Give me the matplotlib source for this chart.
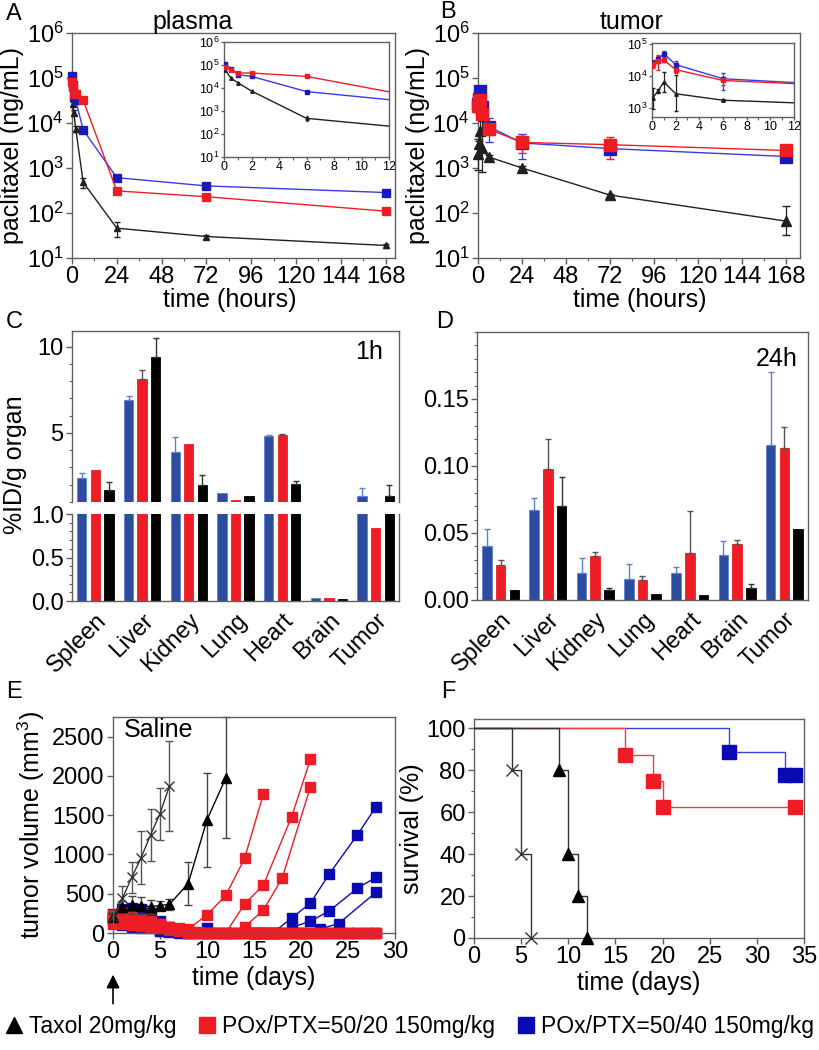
# paclitaxel PK / biodistribution / efficacy figure
import matplotlib
matplotlib.use("Agg")
import matplotlib.pyplot as plt
import numpy as np
from matplotlib.lines import Line2D
from matplotlib.ticker import MultipleLocator, NullLocator, FormatStrFormatter, FixedLocator

plt.rcParams['font.family'] = ['Liberation Sans', 'DejaVu Sans']
plt.rcParams['mathtext.default'] = 'regular'
plt.rcParams['font.size'] = 17

# ---------------- data ----------------
# A / B: paclitaxel concentration (ng/mL) vs time (h)
t_hours = [0.083, 0.5, 1, 2, 6, 24, 72, 168]
plasma_taxol = [61000, 27000, 17000, 7400, 480, 46, 30, 19]
plasma_taxol_err = [5000, 3000, 2000, 1000, 120, 16, 3, 2]
plasma_p20 = [81000, 62000, 45000, 45000, 32000, 310, 230, 110]
plasma_p20_err = [9000, 5000, 4000, 3000, 3000, 25, 40, 15]
plasma_p40 = [112000, 70000, 38000, 32000, 7000, 610, 400, 285]
plasma_p40_err = [10000, 6000, 3000, 3000, 500, 60, 60, 20]

tumor_taxol = [2100, 3400, 6500, 2800, 1750, 1000, 250, 66]
tumor_taxol_lo = [1200, 400, 3400, 2000, 150, 100, 20, 33]
tumor_taxol_hi = [2200, 600, 7000, 8200, 150, 100, 20, 75]
tumor_p20 = [24000, 31000, 32000, 16000, 7300, 3700, 3300, 2450]
tumor_p20_err = [6000, 15000, 5000, 3000, 2000, 1500, 1700, 300]
tumor_p40 = [26000, 34000, 51000, 23000, 8300, 3600, 2700, 1800]
tumor_p40_err = [7000, 8000, 12000, 8000, 4500, 2000, 300, 300]

# C / D: biodistribution (%ID/g organ)
organs = ['Spleen', 'Liver', 'Kidney', 'Lung', 'Heart', 'Brain', 'Tumor']
c_p40 = [2.39, 6.91, 3.92, 1.54, 4.81, 0.03, 1.33]
c_p40_err = [0.30, 0.23, 0.87, 0, 0.08, 0, 0.47]
c_p20 = [2.88, 8.15, 4.36, 1.12, 4.86, 0.03, 0.84]
c_p20_err = [0, 0.48, 0, 0, 0.10, 0, 0]
c_taxol = [1.72, 9.42, 2.00, 1.37, 2.05, 0.02, 1.37]
c_taxol_err = [0.46, 1.06, 0.54, 0, 0.19, 0, 0.63]

d_p40 = [0.040, 0.0675, 0.020, 0.016, 0.020, 0.0335, 0.116]
d_p40_err = [0.013, 0.0085, 0.0115, 0.011, 0.005, 0.0105, 0.054]
d_p20 = [0.026, 0.098, 0.033, 0.015, 0.035, 0.0415, 0.1135]
d_p20_err = [0.004, 0.022, 0.003, 0.003, 0.0315, 0.0035, 0.0155]
d_taxol = [0.0073, 0.0705, 0.0073, 0.0045, 0.0037, 0.009, 0.053]
d_taxol_err = [0, 0.0215, 0.0017, 0, 0, 0.003, 0]

# E: tumor volume (mm3) vs days
e_saline_days = [0, 1, 2, 3, 4, 5, 6]
e_saline = [210, 440, 710, 960, 1250, 1520, 1870]
e_saline_err = [60, 160, 200, 340, 330, 330, 570]
e_taxol_days = [0, 1, 2, 3, 4, 5, 6, 8, 10, 12]
e_taxol = [200, 330, 355, 350, 335, 350, 365, 630, 1440, 1975]
e_taxol_err = [50, 80, 110, 110, 90, 60, 70, 270, 600, 770]

days_all = [0, 1, 2, 3, 4, 5, 6, 7, 8, 9, 10, 11, 12, 13, 14,
            15, 16, 17, 18, 19, 20, 21, 22, 23, 24, 25, 26, 27, 28]

# individual mice, POx/PTX=50/20
r1_days = [0, 1, 2, 3, 4, 5, 6, 7, 8, 10, 12, 14, 16]
r1_vol = [230, 260, 210, 180, 150, 120, 80, 60, 50, 230, 480, 950, 1770]
r2_days = [0, 1, 2, 3, 4, 5, 6, 7, 8, 9, 10, 11, 12, 14, 16, 19, 21]
r2_vol = [190, 170, 160, 150, 130, 100, 70, 40, 20, 10, 0, 0, 0, 370, 610, 1480, 2210]
r3_days = [0, 1, 2, 3, 4, 5, 6, 7, 8, 9, 10, 11, 12, 13, 14, 16, 18, 21]
r3_vol = [150, 140, 130, 120, 110, 90, 60, 40, 10, 0, 0, 0, 0, 0, 80, 290, 700, 1860]
rz1_vol = [200, 180, 170, 150, 130, 110, 80, 50, 20, 0, 0, 0, 0, 0, 0,
           0, 0, 0, 0, 0, 0, 0, 0, 0, 0, 0, 0, 0, 0]
rz2_vol = [120, 110, 100, 90, 80, 60, 40, 20, 0, 0, 0, 0, 0, 0, 0,
           0, 0, 0, 0, 0, 0, 0, 0, 0, 0, 0, 0, 0, 0]

# individual mice, POx/PTX=50/40
b1_days = [0, 1, 2, 3, 4, 5, 6, 7, 8, 10, 15, 16, 17, 19, 21, 23, 26, 28]
b1_vol = [240, 300, 320, 300, 260, 150, 80, 40, 20, 60, 0, 0, 0, 190, 380, 750, 1250, 1610]
b2_days = [0, 1, 2, 3, 4, 5, 6, 7, 8, 15, 16, 17, 19, 21, 23, 26, 28]
b2_vol = [180, 120, 80, 90, 100, 30, 20, 10, 0, 0, 0, 0, 70, 150, 280, 570, 710]
b3_days = [0, 1, 2, 3, 4, 5, 6, 7, 8, 15, 16, 17, 18, 20, 22, 24, 28]
b3_vol = [200, 150, 130, 120, 110, 40, 30, 20, 0, 0, 0, 0, 0, 0, 50, 120, 520]
bz_vol = [160, 100, 90, 70, 60, 20, 10, 0, 0, 0, 0, 0, 0, 0, 0,
          0, 0, 0, 0, 0, 0, 0, 0, 0, 0, 0, 0, 0, 0]

# F: survival (%)
f_saline_days = [0, 4, 5, 6]
f_saline = [100, 80, 40, 0]
f_taxol_days = [0, 9, 10, 11, 12]
f_taxol = [100, 80, 40, 20, 0]
f_p20_days = [0, 16, 19, 20, 34]
f_p20 = [100, 87.5, 75, 62.5, 62.5]
f_p40_days = [0, 27, 33, 34]
f_p40 = [100, 88.9, 77.8, 77.8]

# ---------------- style ----------------
RED = '#ee1d25'
BLUE_LINE = '#3a3ae6'
BLUE_MK = '#1a1ab8'
BAR_BLUE = '#2c4c9e'
BAR_BLUE_ERR = '#5d7fd6'
E_BLUE = '#0a0ab4'
SPINE = '#606060'

W, H = 820, 1050
fig = plt.figure(figsize=(W / 100, H / 100), dpi=100)


def box(x0, y0, x1, y1):
    return [x0 / W, 1 - y1 / H, (x1 - x0) / W, (y1 - y0) / H]


def style(ax, size=17, length=4):
    for s in ax.spines.values():
        s.set_color(SPINE)
        s.set_linewidth(1)
    ax.tick_params(direction='out', length=length, width=1, labelsize=size,
                   color=SPINE, pad=2)
    ax.tick_params(which='minor', direction='out', length=length * 0.6, width=0.8, color=SPINE)


def pk_lines(ax, black, black_err, red, red_err, blue, blue_err, ms_sq, ms_tri, cap):
    ax.errorbar(t_hours, black, yerr=black_err, color='#202020', marker='^', ms=ms_tri,
                lw=1, elinewidth=0.9, capsize=cap, clip_on=False, zorder=3)
    ax.errorbar(t_hours, blue, yerr=blue_err, color=BLUE_LINE, mfc=BLUE_MK, mec=BLUE_MK,
                marker='s', ms=ms_sq, lw=1, elinewidth=0.9, capsize=cap, clip_on=False, zorder=3)
    ax.errorbar(t_hours, red, yerr=red_err, color=RED, marker='s', ms=ms_sq,
                lw=1, elinewidth=0.9, capsize=cap, clip_on=False, zorder=3)


def log_axis(ax, lo, hi, size, xmax, xstep, decades):
    ax.set_yscale('log')
    ax.set_ylim(lo, hi)
    ax.yaxis.set_major_locator(FixedLocator(decades))
    ax.yaxis.set_minor_locator(NullLocator())
    ax.set_xlim(0, xmax)
    ax.xaxis.set_major_locator(MultipleLocator(xstep))
    style(ax, size)


dec_full = [1e1, 1e2, 1e3, 1e4, 1e5, 1e6]

# ---- A plasma ----
axA = fig.add_axes(box(72, 33, 395, 258))
pk_lines(axA, plasma_taxol, plasma_taxol_err, plasma_p20, plasma_p20_err,
         plasma_p40, plasma_p40_err, 6, 5, 2)
log_axis(axA, 10, 1e6, 17, 173, 24, dec_full)
axA.xaxis.set_minor_locator(MultipleLocator(12))
axA.set_ylabel('paclitaxel (ng/mL)', fontsize=18, labelpad=2)

insA = fig.add_axes(box(224, 42, 389, 157))
pk_lines(insA, plasma_taxol, plasma_taxol_err, plasma_p20, plasma_p20_err,
         plasma_p40, plasma_p40_err, 2.5, 2.5, 1)
log_axis(insA, 10, 1e6, 9, 12, 2, dec_full)
insA.xaxis.set_minor_locator(MultipleLocator(1))
insA.tick_params(length=2, pad=1)
for ln in insA.lines:
    ln.set_clip_on(True)

# ---- B tumor ----
axB = fig.add_axes(box(478, 33, 800, 258))
pk_lines(axB, tumor_taxol, [tumor_taxol_lo, tumor_taxol_hi], tumor_p20, tumor_p20_err,
         tumor_p40, tumor_p40_err, 9, 7, 3)
log_axis(axB, 10, 1e6, 17, 175.5, 24, dec_full)
axB.xaxis.set_minor_locator(MultipleLocator(12))
axB.set_ylabel('paclitaxel (ng/mL)', fontsize=18, labelpad=2)

insB = fig.add_axes(box(652, 43, 794, 117))
pk_lines(insB, tumor_taxol, [tumor_taxol_lo, tumor_taxol_hi], tumor_p20, tumor_p20_err,
         tumor_p40, tumor_p40_err, 2.5, 2.5, 1.5)
log_axis(insB, 520, 1.1e5, 9, 12, 2, [1e3, 1e4, 1e5])
insB.xaxis.set_minor_locator(MultipleLocator(1))
insB.tick_params(length=2, pad=1)
for ln in insB.lines:
    ln.set_clip_on(True)

fig.text(193 / W, 1 - 22 / H, 'plasma', ha='center', va='center', fontsize=18)
fig.text(632 / W, 1 - 22 / H, 'tumor', ha='center', va='center', fontsize=18)
fig.text(230 / W, 1 - 300 / H, 'time (hours)', ha='center', va='center', fontsize=18)
fig.text(640 / W, 1 - 300 / H, 'time (hours)', ha='center', va='center', fontsize=18)

# ---- C biodistribution 1h (broken axis) ----
x = np.arange(len(organs))
offs = [-0.29, 0.0, 0.29]
bw = 0.2
off_of = {BAR_BLUE: offs[0], RED: offs[1], 'black': offs[2]}


def bar_set(ax, vals, errs, color, ecolor, with_err=True, edge=None):
    ax.bar(x + off_of[color], vals, width=bw, color=color,
           edgecolor=edge or color, linewidth=0.6)
    if with_err:
        vals = np.array(vals)
        errs = np.array(errs)
        m = (errs > 0) & (vals > ax.get_ylim()[0])
        ax.errorbar((x + off_of[color])[m], vals[m], yerr=[np.zeros(m.sum()), errs[m]],
                    fmt='none', ecolor=ecolor, capsize=2.5, elinewidth=1, capthick=1)


axCu = fig.add_axes(box(72, 331, 399, 502))
axCl = fig.add_axes(box(72, 514, 399, 601))
for ax in (axCu, axCl):
    ax.set_xlim(-0.5, 6.5)
axCu.set_ylim(1.0, 10.9)
axCl.set_ylim(0, 1.0)
bar_set(axCu, c_p40, c_p40_err, BAR_BLUE, BAR_BLUE_ERR, edge=BAR_BLUE_ERR)
bar_set(axCu, c_p20, c_p20_err, RED, '#555555')
bar_set(axCu, c_taxol, c_taxol_err, 'black', '#333333')
bar_set(axCl, c_p40, c_p40_err, BAR_BLUE, BAR_BLUE_ERR, with_err=False, edge=BAR_BLUE_ERR)
bar_set(axCl, c_p20, c_p20_err, RED, '#555555', with_err=False)
bar_set(axCl, c_taxol, c_taxol_err, 'black', '#333333', with_err=False)
style(axCu)
style(axCl)
axCu.spines['bottom'].set_visible(False)
axCl.spines['top'].set_visible(False)
axCu.set_xticks([])
axCu.set_yticks([5, 10])
axCu.yaxis.set_minor_locator(MultipleLocator(1))
axCl.set_yticks([0, 0.5, 1.0])
axCl.yaxis.set_major_formatter(FormatStrFormatter('%.1f'))
axCl.yaxis.set_minor_locator(MultipleLocator(0.1))
axCl.set_xticks(x)
axCl.set_xticklabels(organs, rotation=45, ha='right', rotation_mode='anchor')
axCl.tick_params(axis='x', length=0, pad=6)
axCu.text(0.95, 0.88, '1h', transform=axCu.transAxes, ha='right', va='center', fontsize=18)
fig.text(15 / W, 1 - 465 / H, '%ID/g organ', rotation=90, ha='center', va='center', fontsize=18)

# ---- D biodistribution 24h ----
axD = fig.add_axes(box(477, 332, 808, 600))
axD.set_xlim(-0.5, 6.5)
axD.set_ylim(0, 0.2)
bar_set(axD, d_p40, d_p40_err, BAR_BLUE, BAR_BLUE_ERR, edge=BAR_BLUE_ERR)
bar_set(axD, d_p20, d_p20_err, RED, '#555555')
bar_set(axD, d_taxol, d_taxol_err, 'black', '#333333')
style(axD)
axD.set_yticks([0, 0.05, 0.10, 0.15])
axD.yaxis.set_major_formatter(FormatStrFormatter('%.2f'))
axD.yaxis.set_minor_locator(MultipleLocator(0.01))
axD.set_xticks(x)
axD.set_xticklabels(organs, rotation=45, ha='right', rotation_mode='anchor')
axD.tick_params(axis='x', length=0, pad=6)
axD.text(0.97, 0.9, '24h', transform=axD.transAxes, ha='right', va='center', fontsize=18)

# ---- E tumor growth ----
axE = fig.add_axes(box(113, 717, 395, 933))
kw_sq = dict(marker='s', ms=6.5, lw=1, clip_on=False)
for d, v in [(days_all, bz_vol), (b3_days, b3_vol), (b2_days, b2_vol), (b1_days, b1_vol)]:
    axE.plot(d, v, color=E_BLUE, mfc=E_BLUE, mec=E_BLUE, **kw_sq)
for d, v in [(days_all, rz2_vol), (days_all, rz1_vol), (r3_days, r3_vol),
             (r2_days, r2_vol), (r1_days, r1_vol)]:
    axE.plot(d, v, color=RED, **kw_sq)
axE.errorbar(e_taxol_days, e_taxol, yerr=e_taxol_err, color='black', marker='^', ms=7,
             lw=1, elinewidth=1, ecolor='#444444', capsize=3, clip_on=False)
axE.errorbar(e_saline_days, e_saline, yerr=e_saline_err, color='#333333', marker='x', ms=7,
             mew=1, lw=1, elinewidth=1, ecolor='#555555', capsize=3, clip_on=False)
axE.set_xlim(0, 30)
axE.set_ylim(0, 2750)
axE.set_xticks([0, 5, 10, 15, 20, 25, 30])
axE.set_yticks([0, 500, 1000, 1500, 2000, 2500])
style(axE)
axE.set_ylabel('tumor volume (mm$^3$)', fontsize=18, labelpad=4)
axE.set_xlabel('time (days)', fontsize=18, labelpad=2)
axE.text(0.04, 0.94, 'Saline', transform=axE.transAxes, ha='left', va='center', fontsize=18)
axE.annotate('', xy=(0, -0.18), xycoords=('data', 'axes fraction'),
             xytext=(0, -0.34), textcoords=('data', 'axes fraction'),
             arrowprops=dict(arrowstyle='-|>', color='black', lw=1.2, mutation_scale=20),
             annotation_clip=False)

# ---- F survival ----
axF = fig.add_axes(box(474, 719, 804, 938))
axF.step(f_p40_days, f_p40, where='post', color='#3344dd', lw=1, zorder=2)
axF.plot(f_p40_days[1:], f_p40[1:], 's', color=E_BLUE, ms=10, clip_on=False, zorder=4)
axF.plot(f_p40_days[2:], f_p40[2:], '-', color=E_BLUE, lw=8, solid_capstyle='butt', zorder=4)
axF.step(f_p20_days, f_p20, where='post', color='#ef4040', lw=1, zorder=2)
axF.plot(f_p20_days[1:], f_p20[1:], 's', color=RED, ms=10, clip_on=False, zorder=4)
axF.step(f_taxol_days, f_taxol, where='post', color='#333333', lw=1, zorder=3)
axF.plot(f_taxol_days[1:], f_taxol[1:], '^', color='black', ms=9, clip_on=False, zorder=4)
axF.step(f_saline_days, f_saline, where='post', color='#333333', lw=1, zorder=3)
axF.plot(f_saline_days[1:], f_saline[1:], 'x', color='#333333', ms=9, mew=1,
         clip_on=False, zorder=4)
axF.set_xlim(0, 35)
axF.set_ylim(0, 104.5)
axF.set_xticks([0, 5, 10, 15, 20, 25, 30, 35])
axF.set_yticks([0, 20, 40, 60, 80, 100])
axF.yaxis.set_minor_locator(MultipleLocator(10))
style(axF)
axF.set_ylabel('survival (%)', fontsize=18, labelpad=2)
axF.set_xlabel('time (days)', fontsize=18, labelpad=2)

# ---- panel letters ----
for lbl, px, py in [('A', 14, 14), ('B', 448, 12), ('C', 14, 322), ('D', 445, 322),
                    ('E', 14, 692), ('F', 448, 692)]:
    fig.text(px / W, 1 - py / H, lbl, ha='center', va='center', fontsize=17)

# ---- legend ----
handles = [Line2D([], [], ls='none', marker='^', color='black', ms=12),
           Line2D([], [], ls='none', marker='s', color=RED, ms=12),
           Line2D([], [], ls='none', marker='s', color=E_BLUE, ms=12)]
labels = ['Taxol 20mg/kg', 'POx/PTX=50/20 150mg/kg', 'POx/PTX=50/40 150mg/kg']
fig.legend(handles, labels, loc='center', bbox_to_anchor=(0.5, 1 - 1027 / H), ncol=3,
           frameon=False, handlelength=0.7, handletextpad=0.3, columnspacing=1.0,
           fontsize=16.5, borderpad=0)

fig.savefig('out.png', dpi=100)
